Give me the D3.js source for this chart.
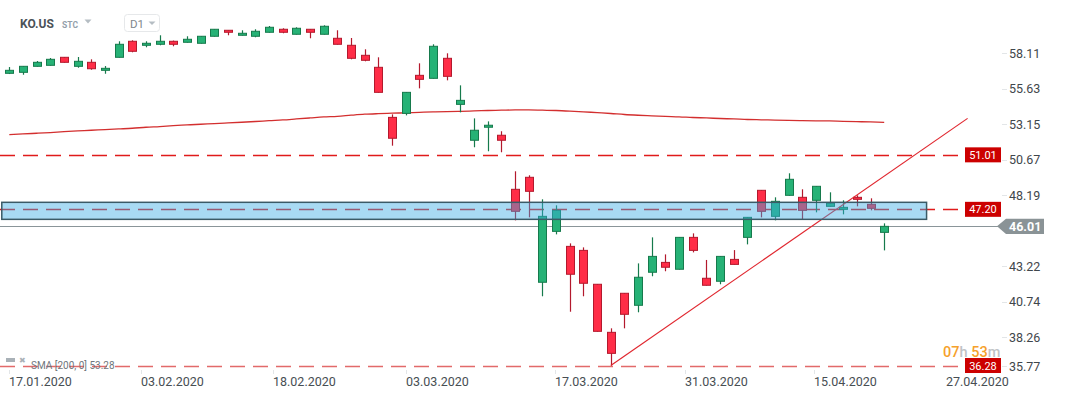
<!DOCTYPE html>
<html>
<head>
<meta charset="utf-8">
<script src="https://cdn.jsdelivr.net/npm/d3@7"></script>
<style>
  html, body { margin: 0; padding: 0; background: #ffffff; }
  svg { display: block; font-family: Roboto, "Open Sans", Arial, sans-serif; }
</style>
</head>
<body>
<svg id="chart" width="1069" height="398"></svg>
<script>
// ---------------- DATA ----------------
const symbol = "KO.US";
const symbolType = "STC";
const interval = "D1";

const dates = [
  "17.01.2020","21.01.2020","22.01.2020","23.01.2020","24.01.2020","27.01.2020","28.01.2020","29.01.2020","30.01.2020","31.01.2020",
  "03.02.2020","04.02.2020","05.02.2020","06.02.2020","07.02.2020","10.02.2020","11.02.2020","12.02.2020","13.02.2020","14.02.2020",
  "18.02.2020","19.02.2020","20.02.2020","21.02.2020","24.02.2020","25.02.2020","26.02.2020","27.02.2020","28.02.2020",
  "02.03.2020","03.03.2020","04.03.2020","05.03.2020","06.03.2020","09.03.2020","10.03.2020","11.03.2020","12.03.2020","13.03.2020",
  "16.03.2020","17.03.2020","18.03.2020","19.03.2020","20.03.2020","23.03.2020","24.03.2020","25.03.2020","26.03.2020","27.03.2020",
  "30.03.2020","31.03.2020","01.04.2020","02.04.2020","03.04.2020","06.04.2020","07.04.2020","08.04.2020","09.04.2020",
  "13.04.2020","14.04.2020","15.04.2020","16.04.2020","17.04.2020","20.04.2020","21.04.2020"
];
const open  = [56.71,56.78,57.20,57.27,57.83,57.20,57.48,56.92,57.83,58.95,
               58.67,58.74,58.95,58.88,58.81,59.30,59.72,59.37,59.30,59.58,
               59.79,59.44,59.79,59.44,59.16,58.67,57.97,57.13,53.63,
               53.91,56.57,56.36,57.76,54.54,52.03,52.94,52.38,48.60,49.44,
               42.10,45.66,44.61,44.33,41.96,38.60,41.33,40.49,42.80,43.49,
               43.01,45.24,42.38,42.17,43.70,45.24,48.53,46.71,48.18,
               48.04,47.83,47.41,47.20,48.04,47.55,45.59];
const high  = [57.15,57.22,57.57,57.78,57.85,57.85,57.69,57.22,58.95,59.02,
               58.95,59.37,59.00,59.30,59.32,59.81,59.74,59.72,59.79,60.02,
               59.86,59.93,59.81,60.07,59.72,59.18,58.39,57.83,53.84,
               55.40,57.41,58.74,58.11,55.87,53.56,53.35,52.66,49.86,49.58,
               47.90,47.48,44.82,44.54,41.98,38.88,41.35,43.42,45.24,44.05,
               45.26,45.52,43.66,43.93,44.35,46.66,48.55,48.04,49.72,
               48.60,48.83,48.39,47.83,48.18,47.97,46.22];
const low   = [56.66,56.61,57.18,57.25,57.46,57.10,56.96,56.68,57.81,58.18,
               58.53,58.67,58.60,58.86,58.79,59.28,59.37,59.35,59.23,59.56,
               59.51,59.42,59.16,59.42,58.72,57.69,57.55,55.36,51.65,
               53.77,55.66,56.34,56.22,53.98,51.54,51.26,51.19,46.43,46.64,
               41.12,45.45,40.04,41.12,38.65,36.28,38.88,40.00,42.52,42.87,
               42.99,44.19,41.87,41.96,43.33,44.75,46.64,46.43,48.16,
               46.52,46.99,47.39,46.85,47.41,47.13,44.33];
const close = [56.92,57.20,57.48,57.69,57.48,57.55,57.03,57.06,58.74,58.25,
               58.81,58.95,58.74,59.09,59.30,59.79,59.58,59.51,59.65,59.93,
               59.58,59.86,59.58,60.00,58.74,57.76,57.62,55.38,52.17,
               55.38,56.29,58.60,56.50,54.82,52.73,53.08,52.03,47.06,48.46,
               46.71,47.13,42.66,42.03,38.67,37.13,39.86,42.45,43.91,43.15,
               45.24,44.33,41.89,43.91,43.35,46.64,47.06,47.76,49.30,
               47.13,48.81,47.62,47.34,47.90,47.27,46.01];
const sma200 = [52.43,52.47,52.52,52.57,52.63,52.68,52.73,52.77,52.82,52.87,
                52.94,52.99,53.05,53.10,53.15,53.19,53.24,53.29,53.34,53.40,
                53.45,53.52,53.59,53.66,53.70,53.78,53.85,53.89,53.92,
                53.95,53.98,54.01,54.03,54.05,54.08,54.11,54.13,54.15,54.15,
                54.13,54.11,54.07,54.02,53.96,53.90,53.83,53.78,53.74,53.70,
                53.67,53.62,53.59,53.55,53.52,53.48,53.46,53.44,53.42,
                53.40,53.39,53.38,53.35,53.33,53.31,53.28];

const yTickValues = [58.11, 55.63, 53.15, 50.67, 48.19, 43.22, 40.74, 38.26, 35.77];
const xTickLabels = ["17.01.2020","03.02.2020","18.02.2020","03.03.2020","17.03.2020","31.03.2020","15.04.2020","27.04.2020"];
const xTickIndex  = [0, 9.6, 19.3, 29.0, 39.9, 49.4, 58.9, 68.5];
const xTickMarked = [true, true, true, true, true, true, true, false];

const levelValues = [51.01, 47.20, 36.28];
const lastPrice = 46.01;
const zoneLow = 46.50, zoneHigh = 47.69, zoneFrom = -0.55, zoneTo = 67.1;
const trendFrom = [44, 36.28], trendTo = [70.1, 53.56];
const smaLabel = "SMA [200, 0] 53.28";
const timerParts = [["07","o"],["h","g"],[" 53","o"],["m","g"]];

// ---------------- SCALES ----------------
const svg = d3.select("#chart");
const x = d3.scaleLinear().domain([0, 64]).range([9.3, 884.2]);
const y = d3.scaleLinear().domain([35.77, 58.11]).range([372.8, 53.3]);

const GREEN = "#26b276", GREEN_D = "#167a4c";
const RED = "#ff2d47", RED_D = "#b3192d";
const LVL = "#e01b1b";

// ---------------- HEADER ----------------
const hdr = svg.append("g");
hdr.append("text").attr("x", 20).attr("y", 28).attr("font-size", 12).attr("font-weight", 700)
   .attr("fill", "#4b5258").text(symbol);
hdr.append("text").attr("x", 62).attr("y", 27.5).attr("font-size", 8.5).attr("font-weight", 700)
   .attr("fill", "#93a0ab").text(symbolType);
hdr.append("path").attr("d", "M84.5,19.5 L91.5,19.5 L88,23.5 Z").attr("fill", "#b5bdc3");
hdr.append("rect").attr("x", 124.5).attr("y", 14.5).attr("width", 35).attr("height", 17).attr("rx", 3)
   .attr("fill", "#fff").attr("stroke", "#e6e8ea");
hdr.append("text").attr("x", 130).attr("y", 27.5).attr("font-size", 11.5).attr("fill", "#7f878d").text(interval);
hdr.append("path").attr("d", "M148.5,21.5 L155.5,21.5 L152,25 Z").attr("fill", "#b5bdc3");

// ---------------- LEVEL LINES ----------------
const gLevels = svg.append("g");
levelValues.forEach(v => {
  gLevels.append("line")
    .attr("x1", 0).attr("x2", 964)
    .attr("y1", Math.round(y(v)) + 0.5).attr("y2", Math.round(y(v)) + 0.5)
    .attr("stroke", v === 36.28 ? "#e26a6a" : LVL).attr("stroke-width", v === 36.28 ? 1.6 : 1.3)
    .attr("stroke-dasharray", "15,8");
});

// last price line
svg.append("line").attr("x1", 0).attr("x2", 998)
  .attr("y1", Math.round(y(lastPrice)) + 0.5).attr("y2", Math.round(y(lastPrice)) + 0.5)
  .attr("stroke", "#8a9599").attr("stroke-width", 1.2);

// ---------------- SMA ----------------
svg.append("path")
  .datum(sma200)
  .attr("fill", "none").attr("stroke", "#d32f2f").attr("stroke-width", 1.3)
  .attr("d", d3.line().x((d, i) => x(i)).y(d => y(d)).curve(d3.curveMonotoneX));

// ---------------- CANDLES ----------------
const idx = d3.range(dates.length);
const gC = svg.append("g");
const cw = 8;
idx.forEach(i => {
  const up = close[i] >= open[i];
  const cx = Math.round(x(i)) + 0.5;
  const top = y(Math.max(open[i], close[i]));
  const bot = y(Math.min(open[i], close[i]));
  gC.append("line").attr("x1", cx).attr("x2", cx)
    .attr("y1", y(high[i])).attr("y2", y(low[i]))
    .attr("stroke", up ? GREEN_D : RED_D).attr("stroke-width", 1.2);
  gC.append("rect")
    .attr("x", cx - cw / 2).attr("y", top)
    .attr("width", cw).attr("height", Math.max(1.5, bot - top))
    .attr("fill", up ? GREEN : RED).attr("stroke", up ? GREEN_D : RED_D).attr("stroke-width", 1);
});

// ---------------- TREND LINE ----------------
svg.append("line")
  .attr("x1", x(trendFrom[0])).attr("y1", y(trendFrom[1]))
  .attr("x2", x(trendTo[0])).attr("y2", y(trendTo[1]))
  .attr("stroke", "#e0262e").attr("stroke-width", 1.2);

// ---------------- ZONE ----------------
svg.append("rect")
  .attr("x", x(zoneFrom)).attr("y", y(zoneHigh))
  .attr("width", x(zoneTo) - x(zoneFrom)).attr("height", y(zoneLow) - y(zoneHigh))
  .attr("fill", "rgba(57,171,228,0.44)").attr("stroke", "#3b5a66").attr("stroke-width", 1.5);

// ---------------- LEVEL LABEL BOXES ----------------
levelValues.forEach(v => {
  const yy = y(v);
  svg.append("rect").attr("x", 965).attr("y", yy - 7.5).attr("width", 36).attr("height", 15).attr("fill", "#cc0000");
  svg.append("text").attr("x", 983).attr("y", yy + 4).attr("text-anchor", "middle")
    .attr("font-size", 11).attr("fill", "#fff").text(v.toFixed(2));
});

// ---------------- Y AXIS ----------------
const gy = svg.append("g");
yTickValues.forEach(v => {
  const yy = Math.min(y(v), 366);
  gy.append("line").attr("x1", 1002).attr("x2", 1007).attr("y1", Math.round(yy) + 0.5).attr("y2", Math.round(yy) + 0.5)
    .attr("stroke", "#e3e6e8");
  gy.append("text").attr("x", 1009).attr("y", yy + 4.5).attr("font-size", 12.5).attr("fill", "#3f464b")
    .text(v.toFixed(2));
});

// current price tag
const ly = y(lastPrice);
svg.append("path")
  .attr("d", `M997,${ly} L1006,${ly - 7.7} L1044,${ly - 7.7} L1044,${ly + 7.7} L1006,${ly + 7.7} Z`)
  .attr("fill", "#8a9396");
svg.append("text").attr("x", 1009).attr("y", ly + 4.5).attr("font-size", 12.5).attr("font-weight", 700)
  .attr("fill", "#fff").text(lastPrice.toFixed(2));

// ---------------- X AXIS ----------------
const gx = svg.append("g");
xTickLabels.forEach((lab, k) => {
  const xx = Math.round(x(xTickIndex[k])) + 0.5;
  if (xTickMarked[k]) {
    gx.append("line").attr("x1", xx).attr("x2", xx).attr("y1", 370).attr("y2", 374).attr("stroke", "#e3e6e8");
  }
  gx.append("text").attr("x", xx - 0.5).attr("y", 385.5).attr("font-size", 12.5).attr("fill", "#474e53").text(lab);
});

// ---------------- TIMER ----------------
const tt = svg.append("text").attr("x", 943).attr("y", 357).attr("font-size", 14.5).attr("font-weight", 500);
timerParts.forEach(p => {
  tt.append("tspan").attr("fill", p[1] === "o" ? "#f6a12b" : "#bfc3c6").text(p[0]);
});

// ---------------- LEGEND ----------------
const lg = svg.append("g");
lg.append("rect").attr("x", 6).attr("y", 358).attr("width", 9).attr("height", 4).attr("fill", "#a9b1b7");
lg.append("text").attr("x", 19).attr("y", 363).attr("font-size", 8).attr("fill", "#aab1b6").text("✖");
lg.append("text").attr("x", 31).attr("y", 368.5).attr("font-size", 10).attr("fill", "#6f777d").text(smaLabel);
</script>
</body>
</html>
